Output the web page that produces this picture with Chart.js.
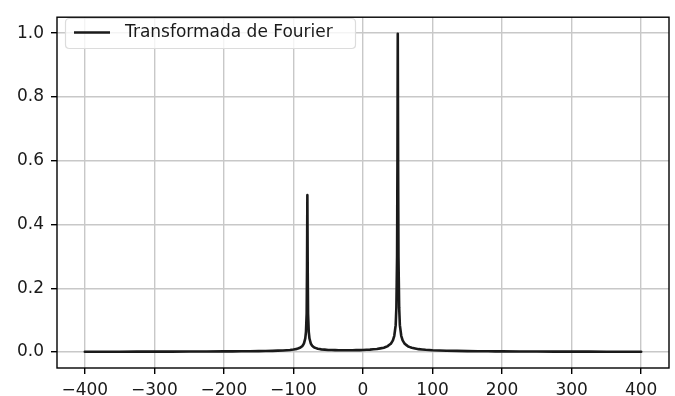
<!DOCTYPE html>
<html>
<head>
<meta charset="utf-8">
<script src="https://cdn.jsdelivr.net/npm/chart.js@4"></script>
<style>
html,body{margin:0;padding:0;background:#fff;overflow:hidden;}
#wrap{width:675px;height:396px;}
</style>
</head>
<body>
<div id="wrap"><canvas id="c" width="675" height="396"></canvas></div>
<script>
const seriesLabel = "Transformada de Fourier";
const freqs = [-400,-350,-300,-250,-200,-175,-150,-130,-115,-105,-100,-95,-90,-87,-85,-83,-82,-81,-80.5,-80,-79.5,-79,-78,-77,-75,-73,-70,-65,-60,-50,-40,-30,-20,-10,0,10,20,30,35,40,43,45,47,48,49,49.5,50,50.5,51,52,53,55,57,60,65,70,80,90,100,120,150,180,200,250,300,350,400];
const amplitude = [0.0009,0.0011,0.0013,0.0016,0.0020,0.0024,0.0030,0.0038,0.0050,0.0065,0.0078,0.0099,0.0140,0.0193,0.0263,0.0427,0.063,0.121,0.26,0.492,0.26,0.121,0.063,0.0428,0.0265,0.0195,0.0143,0.0104,0.0084,0.0066,0.0059,0.0056,0.0056,0.0059,0.0065,0.0076,0.0096,0.0136,0.0178,0.0260,0.0367,0.0510,0.0843,0.14,0.30,0.58,0.998,0.58,0.30,0.14,0.0843,0.051,0.0366,0.0259,0.0175,0.0133,0.0091,0.0070,0.0057,0.0042,0.0030,0.0024,0.0021,0.0016,0.0013,0.0011,0.0010];
const xTicks = [-400,-300,-200,-100,0,100,200,300,400];
const yTicks = [0.0,0.2,0.4,0.6,0.8,1.0];

const FONT = "'DejaVu Sans', sans-serif";
const fmt = v => (v < 0 ? "\u2212" + Math.abs(v) : String(v));

const framePlugin = {
  id: 'frame',
  beforeDraw(chart) {
    const ctx = chart.ctx;
    ctx.save();
    ctx.fillStyle = '#fff';
    ctx.fillRect(0, 0, chart.width, chart.height);
    ctx.restore();
  },
  afterDraw(chart) {
    const {ctx, chartArea: a} = chart;
    ctx.save();
    ctx.strokeStyle = '#000';
    ctx.lineWidth = 1.4;
    ctx.strokeRect(a.left, a.top, a.right - a.left, a.bottom - a.top);
    // legend
    const lx = 65.5, ly = 18.5, lw = 290, lh = 30, r = 4;
    ctx.beginPath();
    ctx.moveTo(lx + r, ly);
    ctx.lineTo(lx + lw - r, ly);
    ctx.quadraticCurveTo(lx + lw, ly, lx + lw, ly + r);
    ctx.lineTo(lx + lw, ly + lh - r);
    ctx.quadraticCurveTo(lx + lw, ly + lh, lx + lw - r, ly + lh);
    ctx.lineTo(lx + r, ly + lh);
    ctx.quadraticCurveTo(lx, ly + lh, lx, ly + lh - r);
    ctx.lineTo(lx, ly + r);
    ctx.quadraticCurveTo(lx, ly, lx + r, ly);
    ctx.closePath();
    ctx.fillStyle = 'rgba(255,255,255,0.8)';
    ctx.fill();
    ctx.strokeStyle = '#dcdcdc';
    ctx.lineWidth = 1.2;
    ctx.stroke();
    ctx.beginPath();
    ctx.moveTo(74, 32.5);
    ctx.lineTo(110, 32.5);
    ctx.strokeStyle = '#1a1a1a';
    ctx.lineWidth = 2.6;
    ctx.stroke();
    ctx.fillStyle = '#1a1a1a';
    ctx.font = "17px " + FONT;
    ctx.textBaseline = 'middle';
    ctx.textAlign = 'left';
    ctx.fillText(seriesLabel, 125, 33);
    ctx.restore();
  }
};

new Chart(document.getElementById('c'), {
  type: 'line',
  data: {
    datasets: [{
      label: seriesLabel,
      data: freqs.map((f, i) => ({x: f, y: amplitude[i]})),
      borderColor: '#1a1a1a',
      borderWidth: 2.6,
      borderJoinStyle: 'round',
      borderCapStyle: 'round',
      pointRadius: 0,
      tension: 0.0001,
      fill: false
    }]
  },
  options: {
    responsive: false,
    animation: false,
    devicePixelRatio: 1,
    layout: {padding: {top: 9, right: 6, left: 0, bottom: 0}},
    plugins: {legend: {display: false}, tooltip: {enabled: false}},
    scales: {
      x: {
        type: 'linear',
        min: -440, max: 440,
        afterBuildTicks: s => { s.ticks = xTicks.map(v => ({value: v})); },
        afterFit: s => { s.height = 28; },
        grid: {color: '#c8c8c8', lineWidth: 1.4, tickLength: 6, tickColor: '#000', tickWidth: 1.4},
        border: {display: false},
        ticks: {color: '#1a1a1a', font: {family: FONT, size: 17}, padding: 6, maxRotation: 0,
                callback: v => fmt(v)}
      },
      y: {
        type: 'linear',
        min: -0.05, max: 1.05,
        afterBuildTicks: s => { s.ticks = yTicks.map(v => ({value: v})); },
        afterFit: s => { s.width = 57; },
        grid: {color: '#c8c8c8', lineWidth: 1.4, tickLength: 6, tickColor: '#000', tickWidth: 1.4},
        border: {display: false},
        ticks: {color: '#1a1a1a', font: {family: FONT, size: 17}, padding: 7,
                callback: v => v.toFixed(1)}
      }
    }
  },
  plugins: [framePlugin]
});
</script>
</body>
</html>
